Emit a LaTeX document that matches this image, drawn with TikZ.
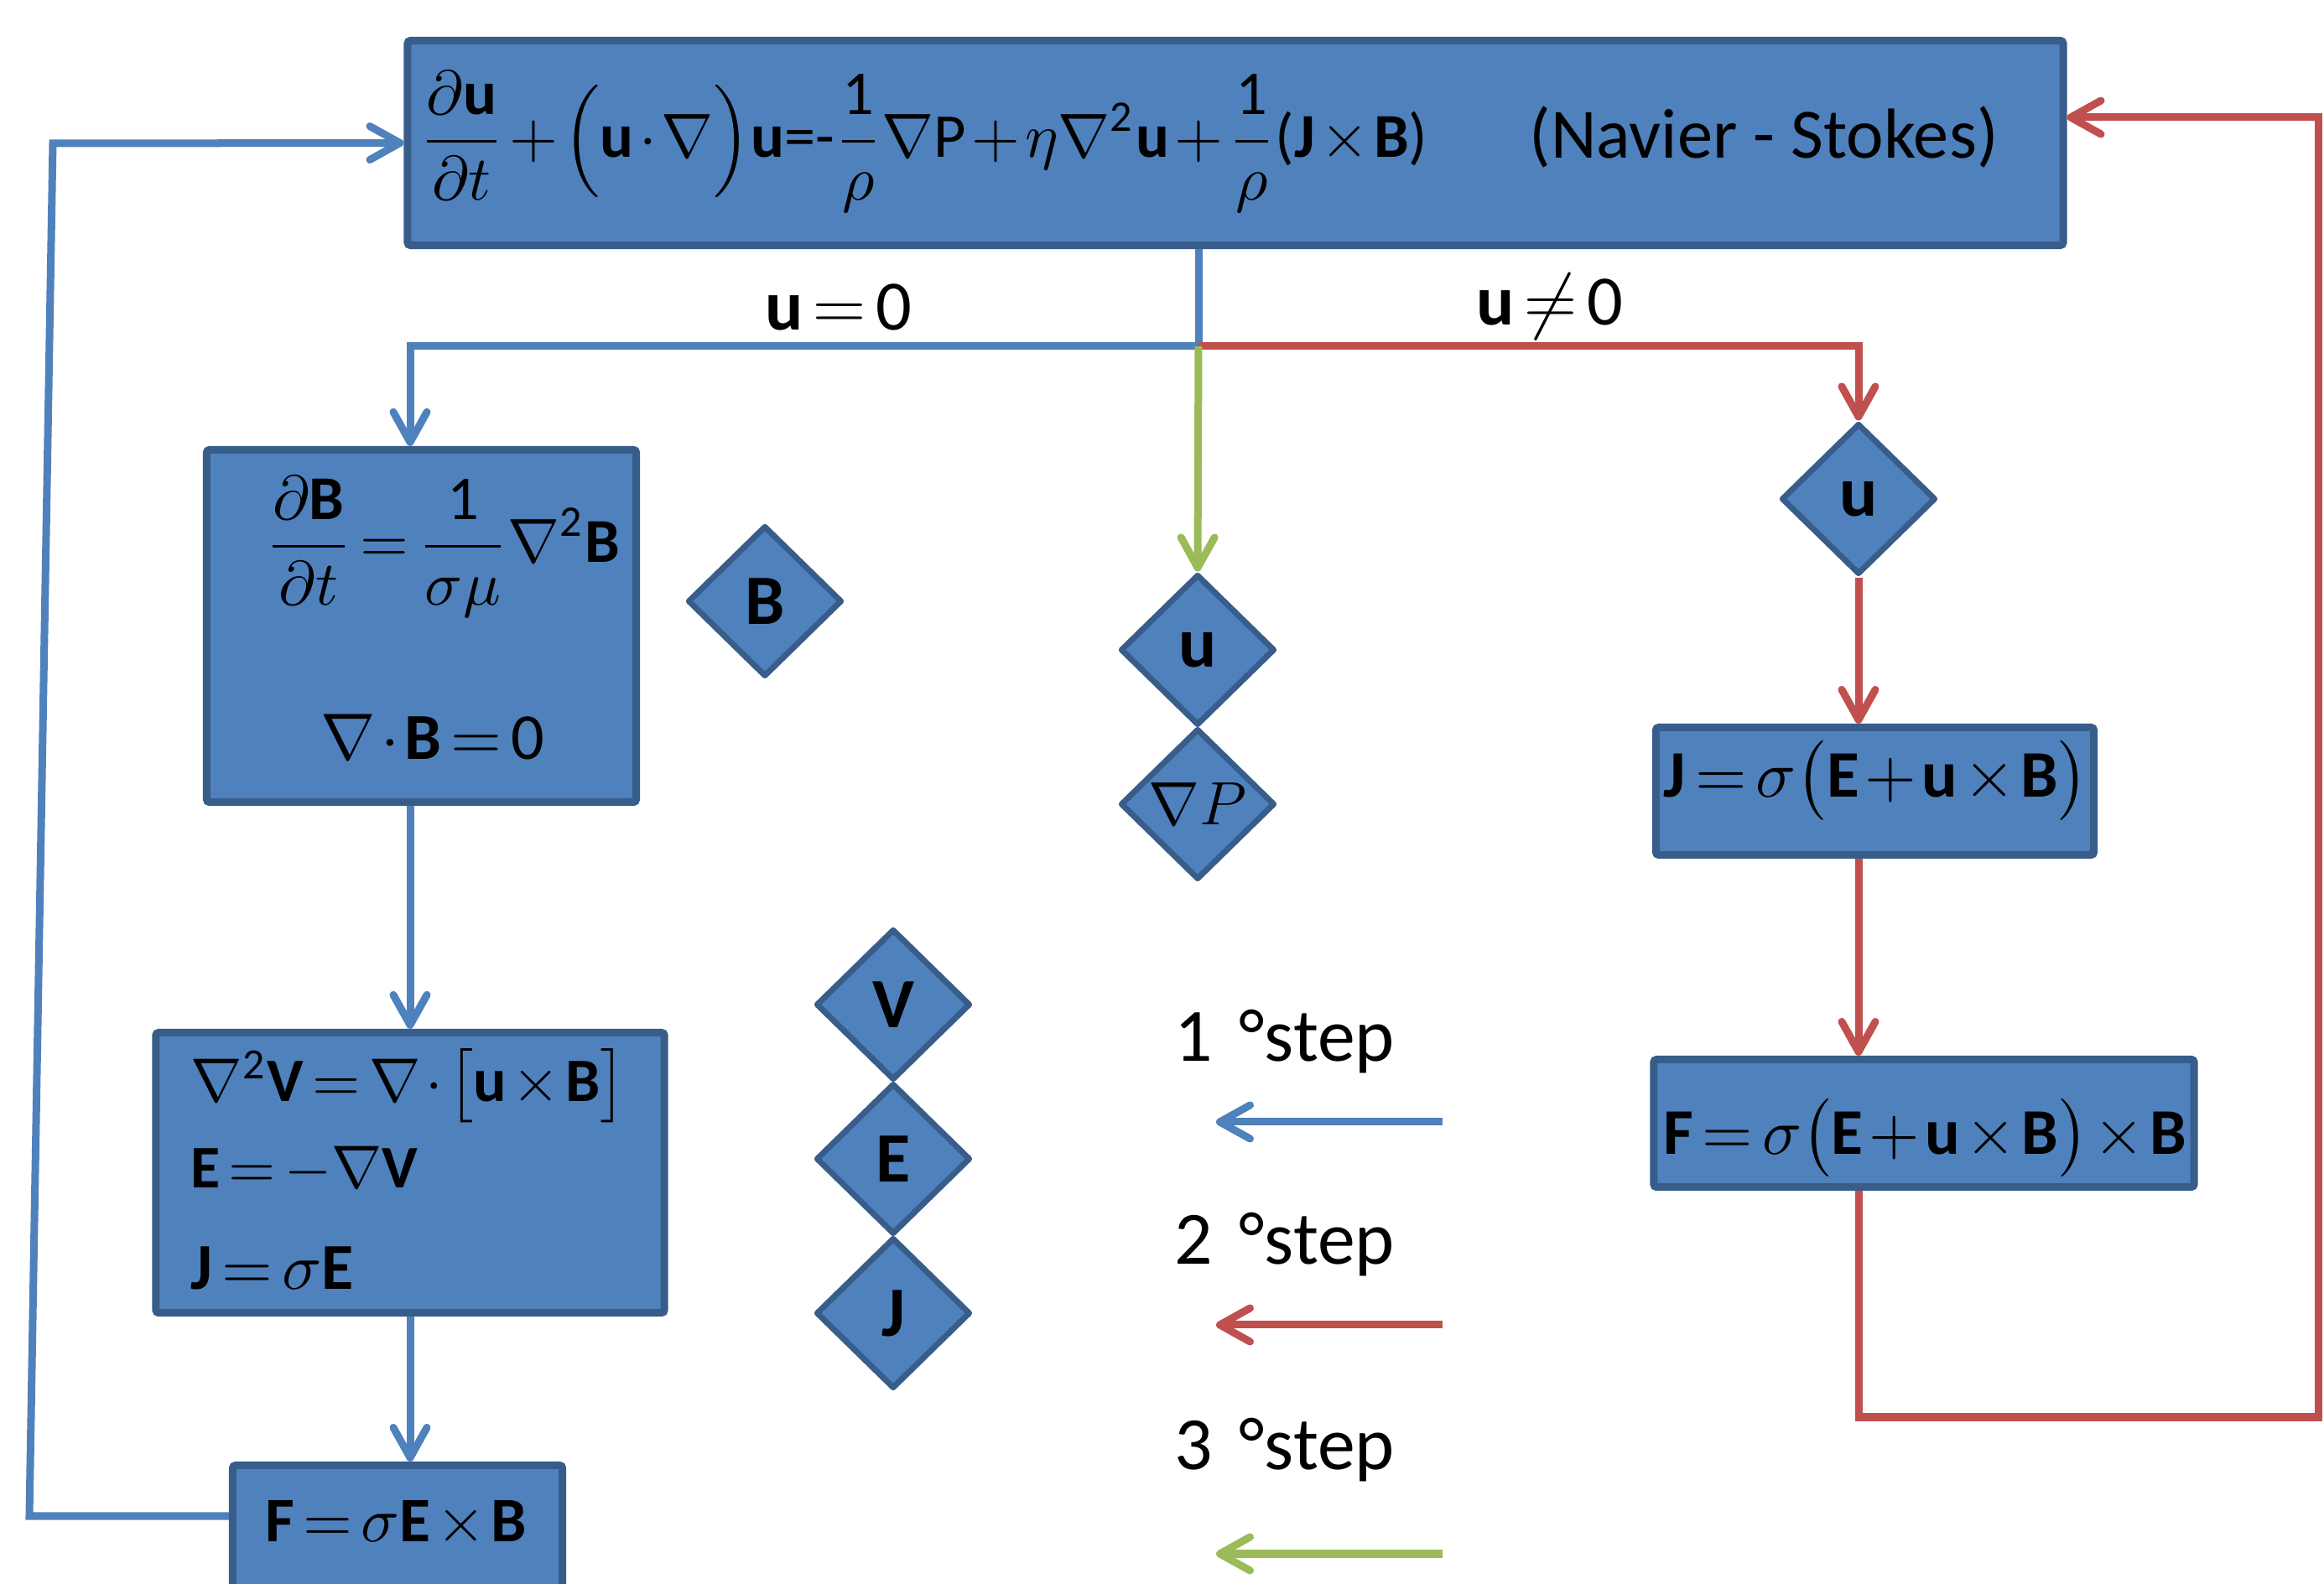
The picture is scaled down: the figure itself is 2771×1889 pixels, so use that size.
\documentclass[tikz,border=0pt]{standalone}
\usepackage{amsmath}
\usepackage{graphicx}
\usepackage{fontspec}
\setmainfont{Carlito}
\usetikzlibrary{shapes.geometric,arrows.meta}

\definecolor{boxfill}{HTML}{4F81BD}
\definecolor{boxline}{HTML}{385D8A}
\definecolor{flowblue}{HTML}{4F81BD}
\definecolor{flowred}{HTML}{C0504D}
\definecolor{flowgreen}{HTML}{9BBB59}

% bold upright vector symbol and upright digits in the text face
\newcommand\vecb[1]{\text{\normalfont\bfseries #1}}
\newcommand\tx[1]{\text{\normalfont #1}}
% tight operator spacing for the formulas
\newcommand\tightmath{\thinmuskip=1mu\medmuskip=1.5mu\thickmuskip=2.5mu}
% formula scaled to a given width
\newcommand\fitw[2]{\resizebox{#1}{!}{\tightmath #2}}

\tikzset{
  eqbox/.style={rectangle, draw=boxline, fill=boxfill, line width=0.09cm,
                rounded corners=1pt, inner sep=0pt},
  dia/.style={diamond, draw=boxline, fill=boxfill, line width=0.07cm,
              line join=round, inner sep=0pt, minimum width=1.84cm,
              minimum height=1.80cm, font=\fontsize{24}{28}\selectfont\bfseries},
  lbl/.style={inner sep=0pt, text=black},
  conn/.style={line width=0.09cm},
  flow/.style={conn, -{Straight Barb[length=0.36cm,width=0.40cm,round]}},
  legtext/.style={lbl, anchor=base west, font=\fontsize{25.5}{30}\selectfont},
  branchtext/.style={lbl, font=\fontsize{24}{28}\selectfont\tightmath},
}

\begin{document}
\begin{tikzpicture}[x=0.01cm,y=-0.01cm]
\useasboundingbox (0,0) rectangle (2771,1889);
\clip (0,0) rectangle (2771,1889);

% ---- boxes ----
\node[eqbox, minimum width=19.73cm, minimum height=2.44cm] (ns) at (1473,170.5) {};
\node[lbl, anchor=west] (nsf) at (499,169)
  {\fitw{12.02cm}{$\displaystyle\frac{\partial\vecb{u}}{\partial t}+\Bigl(\vecb{u}\cdot\nabla\Bigr)\vecb{u}\tx{=-}\frac{\tx{1}}{\rho}\nabla\tx{P}+\eta\nabla^{\tx{2}}\vecb{u}+\frac{\tx{1}}{\rho}\tx{(}\vecb{J}\times\vecb{B}\tx{)}$}};
\node[lbl, font=\fontsize{24}{28}\selectfont] (nsl) at (2103,163) {(Navier - Stokes)};

\node[eqbox, minimum width=5.12cm, minimum height=4.20cm] (bx) at (502.5,746.5) {};
\node[lbl] (bx1) at (528,652)
  {\fitw{4.23cm}{$\displaystyle\frac{\partial\vecb{B}}{\partial t}=\frac{\tx{1}}{\sigma\mu}\nabla^{\tx{2}}\vecb{B}$}};
\node[lbl] (bx2) at (516,879) {\fitw{2.66cm}{$\nabla\cdot\vecb{B}=\tx{0}$}};

\node[eqbox, minimum width=6.06cm, minimum height=3.34cm] (vx) at (489,1398.5) {};
\node[lbl, anchor=west] (vx1) at (227,1295)
  {\fitw{5.18cm}{$\nabla^{\tx{2}}\vecb{V}=\nabla\cdot\bigl[\vecb{u}\times\vecb{B}\bigr]$}};
\node[lbl, anchor=west] (vx2) at (227,1395) {\fitw{2.70cm}{$\vecb{E}=-\nabla\vecb{V}$}};
\node[lbl, anchor=west] (vx3) at (227,1512) {\fitw{1.94cm}{$\vecb{J}=\sigma\vecb{E}$}};

\node[eqbox, minimum width=3.93cm, minimum height=2.08cm] (fl) at (474,1851.5) {};
\node[lbl] (flt) at (472,1817) {\fitw{3.11cm}{$\vecb{F}=\sigma\vecb{E}\times\vecb{B}$}};

\node[eqbox, minimum width=5.22cm, minimum height=1.52cm] (jr) at (2235.5,943.5) {};
\node[lbl] (jrt) at (2237,931)
  {\fitw{5.06cm}{$\vecb{J}=\sigma\bigl(\vecb{E}+\vecb{u}\times\vecb{B}\bigr)$}};

\node[eqbox, minimum width=6.44cm, minimum height=1.52cm] (fr) at (2294,1339.5) {};
\node[lbl] (frt) at (2295,1357)
  {\fitw{6.23cm}{$\vecb{F}=\sigma\bigl(\vecb{E}+\vecb{u}\times\vecb{B}\bigr)\times\vecb{B}$}};

% ---- diamonds ----
\node[dia] (dB) at (912,717) {B};
\node[dia] (du) at (1428,775) {u};
\node[dia, font=\fontsize{21}{24}\selectfont] (dP) at (1428,959) {$\nabla P$};
\node[dia] (dV) at (1065,1198) {V};
\node[dia] (dE) at (1065,1382) {E};
\node[dia] (dJ) at (1065,1566) {J};
\node[dia] (du2) at (2216,595) {u};

% ---- branch labels ----
\node[branchtext] (lz) at (1000,366) {$\vecb{u}=\tx{0}$};
\node[branchtext] (lnz) at (1848,366) {$\vecb{u}\neq\tx{0}$};

% ---- connectors ----
\coordinate (br) at (1429,413);
\coordinate (bl) at (489,413);
\coordinate (rr) at (2216,413);
\draw[conn, flowblue] (ns.south -| br) -- (br);
\draw[flow, flowblue] (br) -- (bl) -- (bl |- bx.north);
\draw[flow, flowblue] (bx.south -| bl) -- (vx.north -| bl);
\draw[flow, flowblue] (vx.south -| bl) -- (fl.north -| bl);

\coordinate (fbk) at (35,1808);
\coordinate (fbt) at (63,171);
\draw[flow, flowblue] (fl.west |- fbk) -- (fbk) -- (fbt) -- (ns.west);

\draw[flow, flowred] (br) -- (rr) -- (du2.north);
\draw[flow, flowred] (du2.south) -- (du2 |- jr.north);
\draw[flow, flowred] (jr.south -| du2) -- (fr.north -| du2);
\coordinate (rb) at (2216,1690);
\coordinate (rc) at (2764,1690);
\coordinate (rt) at (2764,140);
\draw[flow, flowred] (fr.south -| du2) -- (rb) -- (rc) -- (rt) -- (ns.east |- rt);

\draw[flow, flowgreen] (br) -- (du.north);

% ---- legend ----
\node[legtext] (s1) at (1400,1266) {1\hspace{0.35em}°step};
\node[legtext] (s2) at (1400,1508) {2\hspace{0.35em}°step};
\node[legtext] (s3) at (1400,1753) {3\hspace{0.35em}°step};
\coordinate (a1s) at (1720,1338); \coordinate (a1e) at (1450,1338);
\coordinate (a2s) at (1720,1580); \coordinate (a2e) at (1450,1580);
\coordinate (a3s) at (1720,1853); \coordinate (a3e) at (1450,1853);
\draw[flow, flowblue] (a1s) -- (a1e);
\draw[flow, flowred] (a2s) -- (a2e);
\draw[flow, flowgreen] (a3s) -- (a3e);
\end{tikzpicture}
\end{document}
